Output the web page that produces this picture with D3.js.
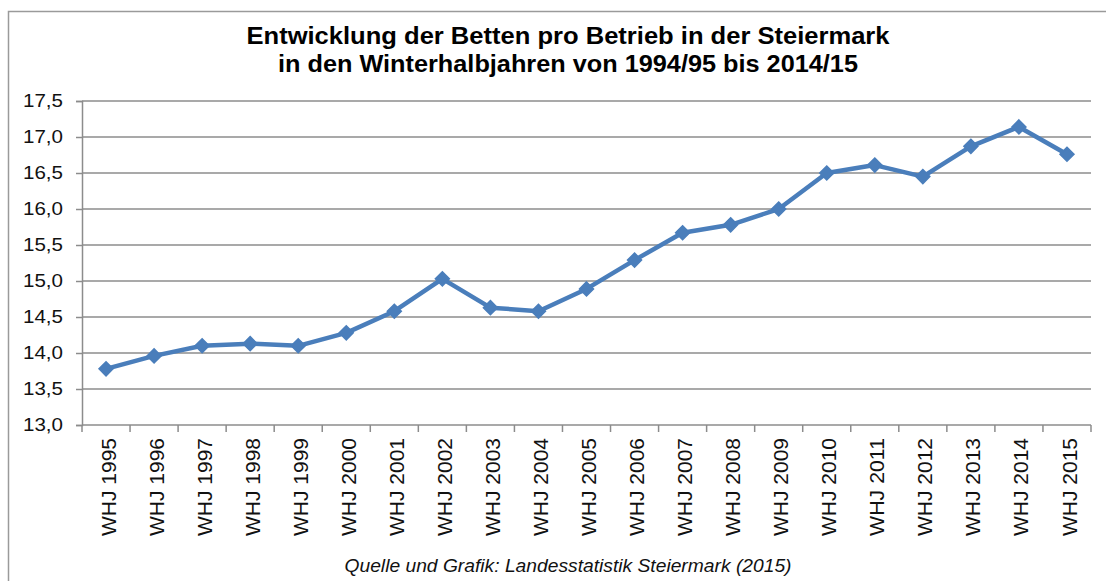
<!DOCTYPE html>
<html><head><meta charset="utf-8">
<script src="https://cdn.jsdelivr.net/npm/d3@7"></script>
<style>
html,body{margin:0;padding:0;background:#fff;}
svg{display:block;font-family:"Liberation Sans",Arial,sans-serif;}
</style></head>
<body>
<svg id="c" width="1106" height="581"></svg>
<script>
const categories = ["WHJ 1995","WHJ 1996","WHJ 1997","WHJ 1998","WHJ 1999","WHJ 2000","WHJ 2001","WHJ 2002","WHJ 2003","WHJ 2004","WHJ 2005","WHJ 2006","WHJ 2007","WHJ 2008","WHJ 2009","WHJ 2010","WHJ 2011","WHJ 2012","WHJ 2013","WHJ 2014","WHJ 2015"];
const values = [13.78,13.96,14.10,14.13,14.10,14.28,14.58,15.03,14.63,14.58,14.89,15.29,15.67,15.78,16.00,16.50,16.61,16.45,16.87,17.14,16.76];
const yTicks = [13.0,13.5,14.0,14.5,15.0,15.5,16.0,16.5,17.0,17.5];
const titleLines = ["Entwicklung der Betten pro Betrieb in der Steiermark","in den Winterhalbjahren von 1994/95 bis 2014/15"];
const source = "Quelle und Grafik: Landesstatistik Steiermark (2015)";

const svg = d3.select("#c");
const L = 82, R = 1091, T = 101, B = 425;
const grey = "#8c8c8c";
const blue = "#4a7ebb";

// outer frame (left + top visible)
svg.append("path").attr("d", `M8.5,581 V11.5 H1106`).attr("fill","none").attr("stroke","#9a9a9a").attr("stroke-width",1.5);

const x = d3.scaleBand().domain(categories).range([L, R]).paddingInner(0).paddingOuter(0);
const y = d3.scaleLinear().domain([13, 17.5]).range([B, T]);

// gridlines
svg.append("g").selectAll("line").data(yTicks.slice(1)).join("line")
  .attr("x1", L).attr("x2", R).attr("y1", d => y(d)).attr("y2", d => y(d))
  .attr("stroke", grey).attr("stroke-width", 1.5);

// y axis
const yAxis = d3.axisLeft(y).tickValues(yTicks).tickSize(6).tickPadding(13)
  .tickFormat(d => d3.format(".1f")(d).replace(".", ","));
const gy = svg.append("g").attr("transform", `translate(${L},0)`).call(yAxis);
gy.select(".domain").attr("stroke", grey).attr("stroke-width", 1.5);
gy.selectAll(".tick line").attr("stroke", grey).attr("stroke-width", 1.5);
gy.selectAll(".tick text").attr("font-size", 18).attr("fill", "#111")
  .attr("textLength", 40).attr("lengthAdjust", "spacingAndGlyphs")
  .attr("font-family", "'Liberation Sans',Arial,sans-serif");

// x axis
const gx = svg.append("g").attr("transform", `translate(0,${B})`);
gx.append("line").attr("x1", L).attr("x2", R).attr("y1", 0).attr("y2", 0).attr("stroke", grey).attr("stroke-width", 1.5);
const boundaries = categories.map(c => x(c)).concat([R]);
gx.selectAll("line.tk").data(boundaries).join("line").attr("class","tk")
  .attr("x1", d => d).attr("x2", d => d).attr("y1", 0).attr("y2", 7)
  .attr("stroke", grey).attr("stroke-width", 1.5);
gx.selectAll("text").data(categories).join("text")
  .attr("transform", d => `translate(${x(d) + x.bandwidth()/2 + 2},13) rotate(-90)`)
  .attr("text-anchor", "end").attr("dy", "0.36em")
  .attr("font-size", 21).attr("fill", "#111")
  .attr("textLength", 98).attr("lengthAdjust", "spacingAndGlyphs")
  .text(d => d);

// line
const line = d3.line().x((d,i) => x(categories[i]) + x.bandwidth()/2).y(d => y(d));
svg.append("path").datum(values).attr("d", line).attr("fill","none")
  .attr("stroke", blue).attr("stroke-width", 4.5).attr("stroke-linejoin","round");

// markers
const sym = d3.symbol().type(d3.symbolDiamond2).size(125);
svg.append("g").selectAll("path").data(values).join("path")
  .attr("d", sym)
  .attr("transform", (d,i) => `translate(${x(categories[i]) + x.bandwidth()/2},${y(d)})`)
  .attr("fill", blue).attr("stroke", blue).attr("stroke-width", 1.5);

// title
const titleLens = [643, 580];
svg.append("g").selectAll("text").data(titleLines).join("text")
  .attr("x", 568).attr("y", (d,i) => 44 + i*28).attr("text-anchor","middle")
  .attr("font-size", 23.5).attr("font-weight","bold").attr("fill","#000")
  .attr("textLength", (d,i) => titleLens[i]).attr("lengthAdjust", "spacingAndGlyphs")
  .text(d => d);

// source
svg.append("text").attr("x", 568).attr("y", 572).attr("text-anchor","middle")
  .attr("font-size", 18.5).attr("font-style","italic").attr("fill","#111")
  .attr("textLength", 447).attr("lengthAdjust", "spacingAndGlyphs")
  .text(source);
</script>
</body></html>
